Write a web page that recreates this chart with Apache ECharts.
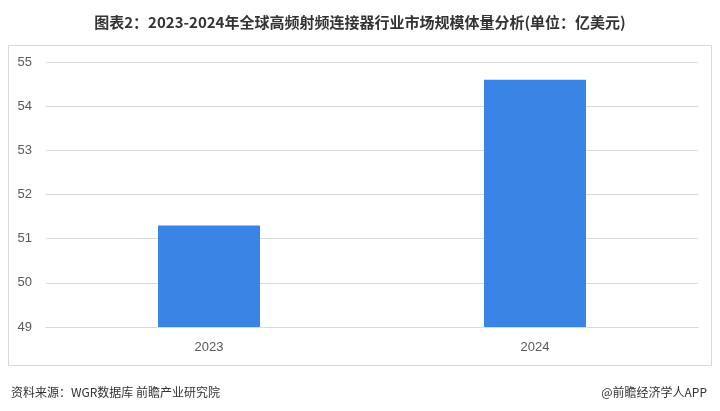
<!DOCTYPE html>
<html><head><meta charset="utf-8">
<script src="https://cdn.jsdelivr.net/npm/echarts@6/dist/echarts.min.js"></script>
<style>body{margin:0}#c{width:720px;height:411px}</style></head>
<body><div id="c"></div>
<script>
const categories = ['2023', '2024'];
const values = [51.3, 54.6];
const chart = echarts.init(document.getElementById('c'));
chart.setOption({
  backgroundColor: '#fff',
  title: [
    {text: '图表2：2023-2024年全球高频射频连接器行业市场规模体量分析(单位：亿美元)', left: 'center', top: 10,
     textStyle: {fontSize: 15, fontWeight: 'bold', color: '#333', fontFamily: 'Noto Sans CJK SC'}},
    {text: '资料来源：WGR数据库 前瞻产业研究院', left: 6, top: 381,
     textStyle: {fontSize: 12, fontWeight: 'normal', color: '#333', fontFamily: 'Noto Sans CJK SC'}},
    {text: '@前瞻经济学人APP', right: 8, top: 381,
     textStyle: {fontSize: 12, fontWeight: 'normal', color: '#333', fontFamily: 'Noto Sans CJK SC'}}
  ],
  graphic: [{type: 'rect', shape: {x: 8.5, y: 45.5, width: 703, height: 320}, style: {fill: 'none', stroke: '#d9d9d9', lineWidth: 1}}],
  grid: {left: 46, right: 22, top: 62, bottom: 84},
  xAxis: {type: 'category', data: categories,
    axisLine: {lineStyle: {color: '#d9d9d9'}}, axisTick: {show: false},
    axisLabel: {color: '#595959', fontSize: 13, margin: 14}},
  yAxis: {type: 'value', min: 49, max: 55, interval: 1,
    axisLine: {show: false}, axisTick: {show: false},
    splitLine: {lineStyle: {color: '#d9d9d9'}},
    axisLabel: {color: '#595959', fontSize: 13, margin: 14}},
  series: [{type: 'bar', data: values, barWidth: 102, itemStyle: {color: '#3a84e6'}}]
});
</script></body></html>
